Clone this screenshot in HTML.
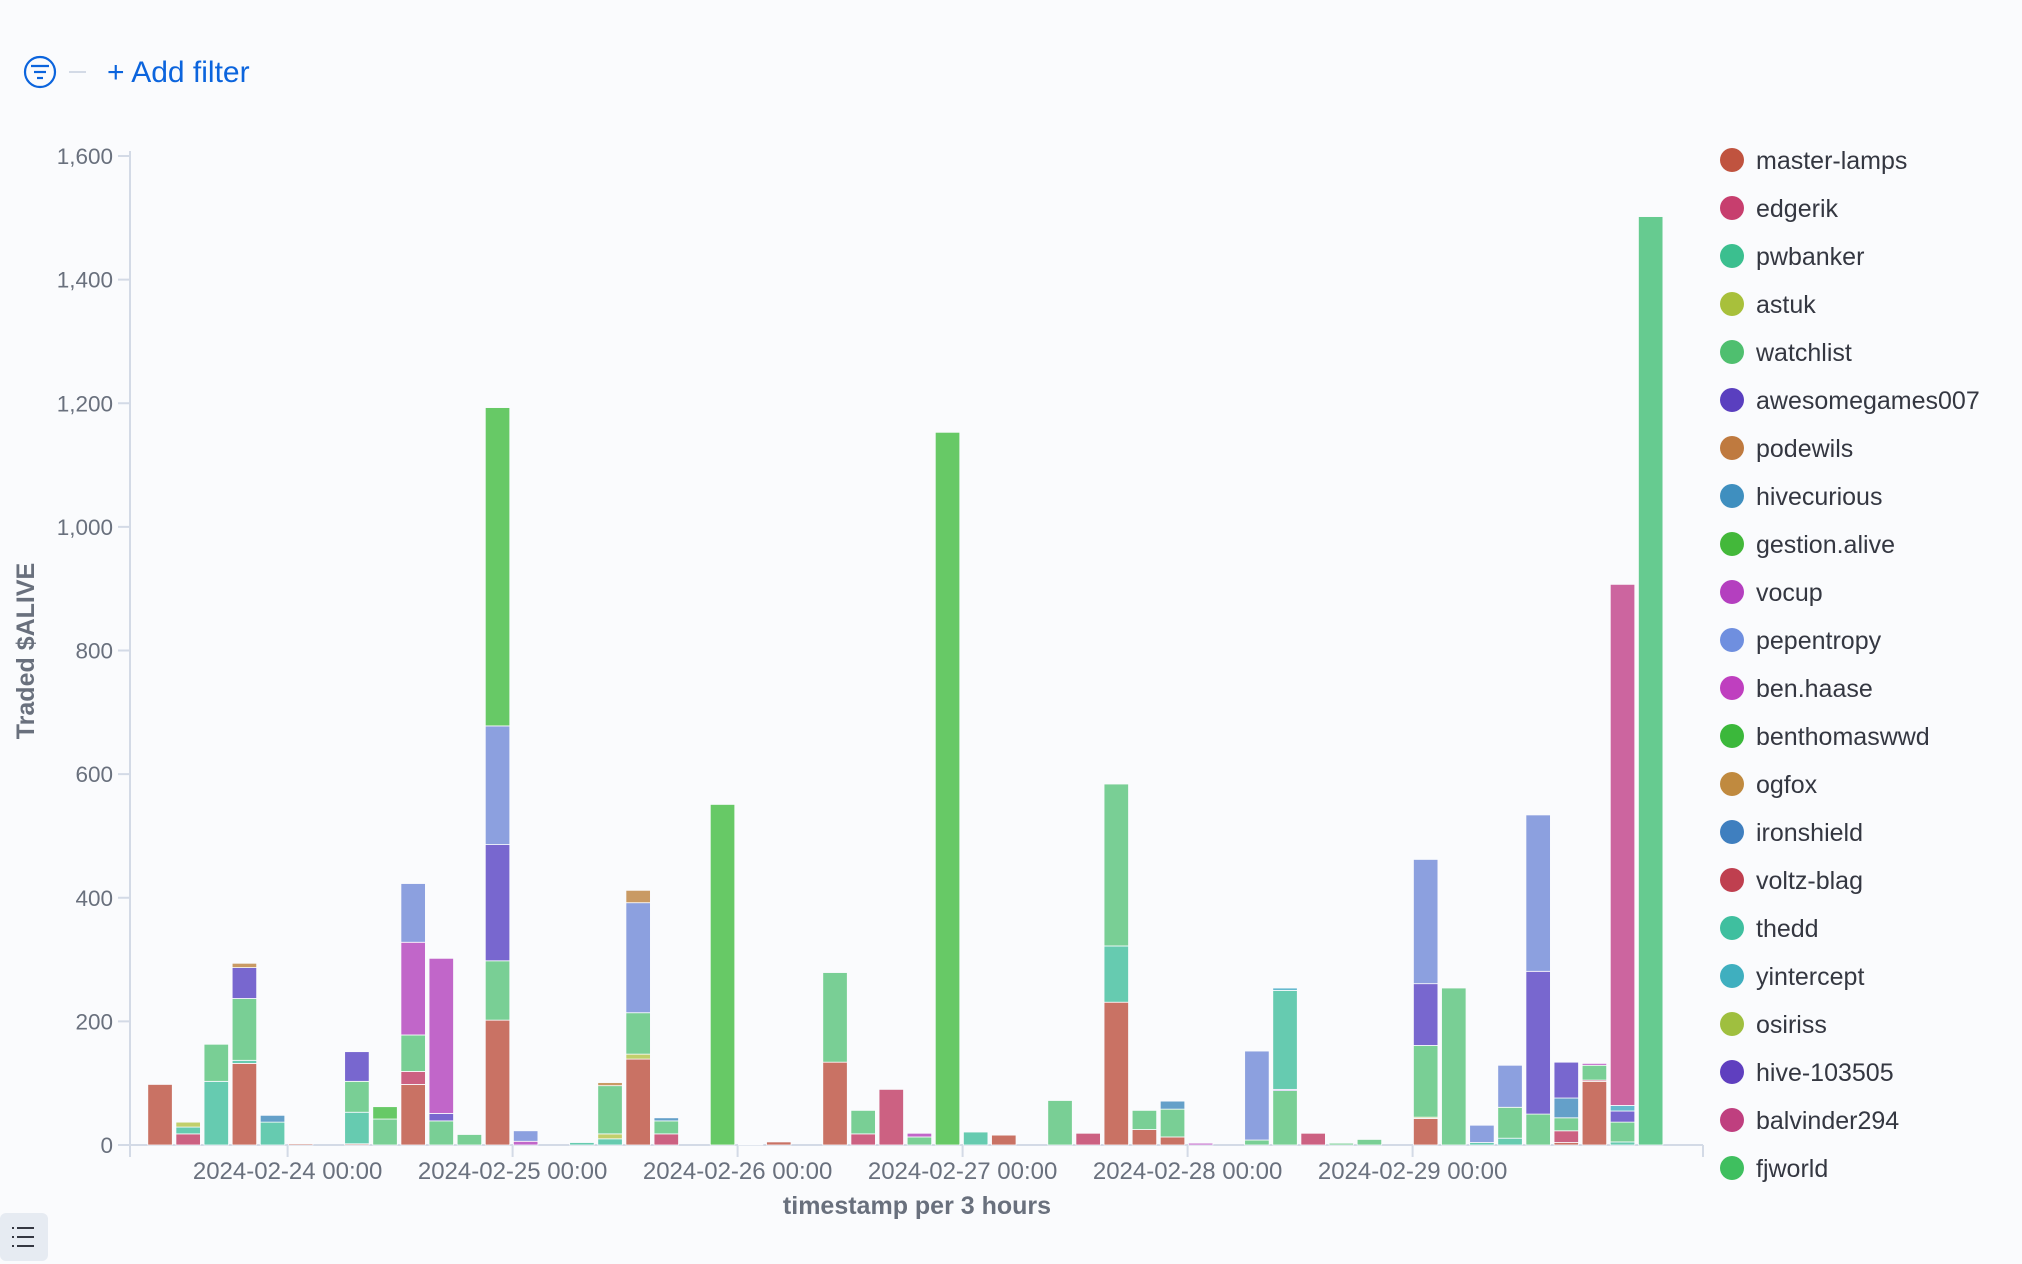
<!DOCTYPE html>
<html><head><meta charset="utf-8"><style>
html,body{margin:0;padding:0;background:#fafbfd;width:2022px;height:1264px;overflow:hidden;font-family:"Liberation Sans",sans-serif}
</style></head><body>
<svg id="chart" width="2022" height="1264" xmlns="http://www.w3.org/2000/svg" style="position:absolute;left:0;top:0">
<g>
 <g>
  <circle cx="40" cy="72" r="15" fill="none" stroke="#0b64dd" stroke-width="2.2"/>
  <line x1="31" y1="66" x2="49" y2="66" stroke="#0b64dd" stroke-width="2.2"/>
  <line x1="34" y1="72" x2="46" y2="72" stroke="#0b64dd" stroke-width="2.2"/>
  <line x1="37" y1="78" x2="43" y2="78" stroke="#0b64dd" stroke-width="2.2"/>
 </g>
 <line x1="69" y1="72" x2="86" y2="72" stroke="#d3dae6" stroke-width="2"/>
 <text x="107" y="82" font-size="30" fill="#0b64dd">+ Add filter</text>
</g>
<g id="plot"></g>
<g id="legend"></g>
<g>
 <rect x="0" y="1213" width="48" height="48" rx="6" fill="#e6ebf2"/>
 <g stroke="#343741" stroke-width="2">
  <line x1="17" y1="1228" x2="34" y2="1228"/><line x1="17" y1="1237" x2="34" y2="1237"/><line x1="17" y1="1246" x2="34" y2="1246"/>
  <line x1="12" y1="1228" x2="14" y2="1228"/><line x1="12" y1="1237" x2="14" y2="1237"/><line x1="12" y1="1246" x2="14" y2="1246"/>
 </g>
</g>
</svg>
<script>
const seriesNames = ["master-lamps","edgerik","pwbanker","astuk","watchlist","awesomegames007","podewils","hivecurious","gestion.alive","vocup","pepentropy","ben.haase","benthomaswwd","ogfox","ironshield","voltz-blag","thedd","yintercept","osiriss","hive-103505","balvinder294","fjworld"];
const legendColors = ["#c0533f","#c73e6e","#3bbf8f","#a8c03b","#4fbf6f","#5a3fbf","#bf7a3f","#3f8fbf","#43b83a","#b43fbf","#6f8fdf","#bf3fbf","#3bb83b","#c08a3f","#3f7fbf","#bf3f4f","#3fbf9f","#3fafbf","#9fbf3f","#5f3fbf","#bf3f7f","#3fbf5f"];
const yTicks = [0,200,400,600,800,1000,1200,1400,1600];
const yTickLabels = ["0","200","400","600","800","1,000","1,200","1,400","1,600"];
const xTickLabels = ["2024-02-24 00:00","2024-02-25 00:00","2024-02-26 00:00","2024-02-27 00:00","2024-02-28 00:00","2024-02-29 00:00"];
// series values: [slot index (3h slots from 2024-02-24 00:00), value]
const masterLamps = [[-5,98],[-2,132],[0,2],[2,2],[4,98],[7,202],[12,139],[17,5],[19,134],[25,16],[29,231],[30,25],[31,13],[40,43],[45,4],[46,103]];
const edgerik = [[-4,18],[4,21],[13,18],[16,1],[20,18],[21,90],[28,19],[36,19],[45,19],[46,2]];
const thedd = [[-4,11],[-3,103],[-2,5],[-1,37],[2,51],[10,4],[11,10],[24,21],[29,91],[42,4],[43,11],[47,5]];
const theddLate = [[35,160]];
const osiriss = [[-4,8]];
const astuk = [[11,8],[12,8],[40,2]];
const watchlist = [[-3,60],[-2,100],[2,50],[3,42],[4,59],[5,39],[6,17],[7,96],[11,78],[12,67],[13,21],[19,145],[20,38],[22,13],[27,72],[29,262],[30,31],[31,45],[34,8],[35,88],[37,3],[38,9],[40,116],[41,254],[43,50],[44,50],[45,21],[46,24],[47,32]];
const gestionAlive = [[3,20],[7,515],[15,551],[23,1153]];
const hivecurious = [[-1,11],[13,5],[31,13],[45,32]];
const hive103505 = [[-2,50],[2,48],[5,12],[7,188],[35,2],[40,100],[44,231],[45,58],[47,18]];
const vocup = [[4,150],[8,6],[22,6],[32,3],[46,3]];
const benHaase = [[5,251]];
const pepentropy = [[4,95],[7,192],[8,17],[12,178],[34,144],[40,201],[42,28],[43,68],[44,253]];
const podewils = [[-2,7],[11,5],[12,20]];
const yintercept = [[35,4],[47,9]];
const balvinder294 = [[47,843]];
const fjworld = [[48,1502]];

const stackOrder = [
 ["master-lamps",masterLamps,"#c97264"],["edgerik",edgerik,"#cc6182"],["thedd",thedd,"#66cbb0"],
 ["osiriss",osiriss,"#c1cf6b"],["astuk",astuk,"#c1cf6b"],["watchlist",watchlist,"#79cf95"],
 ["hivecurious",hivecurious,"#64a0c9"],["hive-103505",hive103505,"#7867cf"],["thedd",theddLate,"#66cbb0"],
 ["vocup",vocup,"#c166c9"],["ben.haase",benHaase,"#c166c9"],["pepentropy",pepentropy,"#8ca0df"],["gestion.alive",gestionAlive,"#67c966"],
 ["podewils",podewils,"#c99a64"],["yintercept",yintercept,"#66b9cf"],["balvinder294",balvinder294,"#cc659f"],["fjworld",fjworld,"#66cb90"]];

const NS="http://www.w3.org/2000/svg";
const X0=130, X1=1703, Y0=1145, Y1=156, day0=287.6, dayW=225, slotW=dayW/8, barW=24.5;
const yScale=v=>Y0-(v/1600)*(Y0-Y1);
const xSlot=k=>day0+(k+0.5)*slotW-1;
function mk(tag,attrs,parent){const e=document.createElementNS(NS,tag);for(const a in attrs)e.setAttribute(a,attrs[a]);parent.appendChild(e);return e;}
const plot=document.getElementById('plot');
let ax=mk('line',{x1:X0,y1:Y1-5,x2:X0,y2:Y0+12,stroke:'#d3dae6','stroke-width':2},plot);


let bx=mk('line',{x1:X0,y1:Y0,x2:X1,y2:Y0,stroke:'#d3dae6','stroke-width':2},plot);


mk('line',{x1:X1,y1:Y0,x2:X1,y2:Y0+12,stroke:'#d3dae6','stroke-width':2},plot);
yTicks.forEach((v,i)=>{
 const y=yScale(v);
 mk('line',{x1:X0-12,y1:y,x2:X0,y2:y,stroke:'#d3dae6','stroke-width':2},plot);
 const t=mk('text',{x:X0-17,y:y+8,'text-anchor':'end','font-size':22.5,fill:'#69707d'},plot);
 t.textContent=yTickLabels[i];
 
 
});
xTickLabels.forEach((l,i)=>{
 const x=day0+i*dayW;
 mk('line',{x1:x,y1:Y0,x2:x,y2:Y0+12,stroke:'#d3dae6','stroke-width':2},plot);
 const t=mk('text',{x:x,y:Y0+34,'text-anchor':'middle','font-size':24,fill:'#69707d'},plot);
 t.textContent=l;
 
 
});
const xt=mk('text',{x:917,y:1214,'text-anchor':'middle','font-size':25,'font-weight':'bold',fill:'#69707d'},plot);
xt.textContent='timestamp per 3 hours';


const yt=mk('text',{x:0,y:0,'text-anchor':'middle','font-size':25,'font-weight':'bold',fill:'#69707d',transform:'translate(34,651) rotate(-90)'},plot);
yt.textContent='Traded $ALIVE';


const stack={};
stackOrder.forEach(([name,data,color])=>{
 data.forEach(([k,v])=>{
  const base=stack[k]||0;
  const yTop=yScale(base+v), yBot=yScale(base);
  const r=mk('rect',{x:xSlot(k)-barW/2,y:yTop,width:barW,height:Math.max(0.5,yBot-yTop),fill:color,stroke:'#fafbfd','stroke-width':0.8},plot);
  
  
  stack[k]=base+v;
 });
});
const lg=document.getElementById('legend');
seriesNames.forEach((n,i)=>{
 const y=160+i*48;
 const g=mk('g',{},lg);
 
 
 mk('circle',{cx:1732,cy:y,r:12,fill:legendColors[i]},g);
 const t=mk('text',{x:1756,y:y+9,'font-size':25,fill:'#343741'},g);
 t.textContent=n;
});
</script>
</body></html>
